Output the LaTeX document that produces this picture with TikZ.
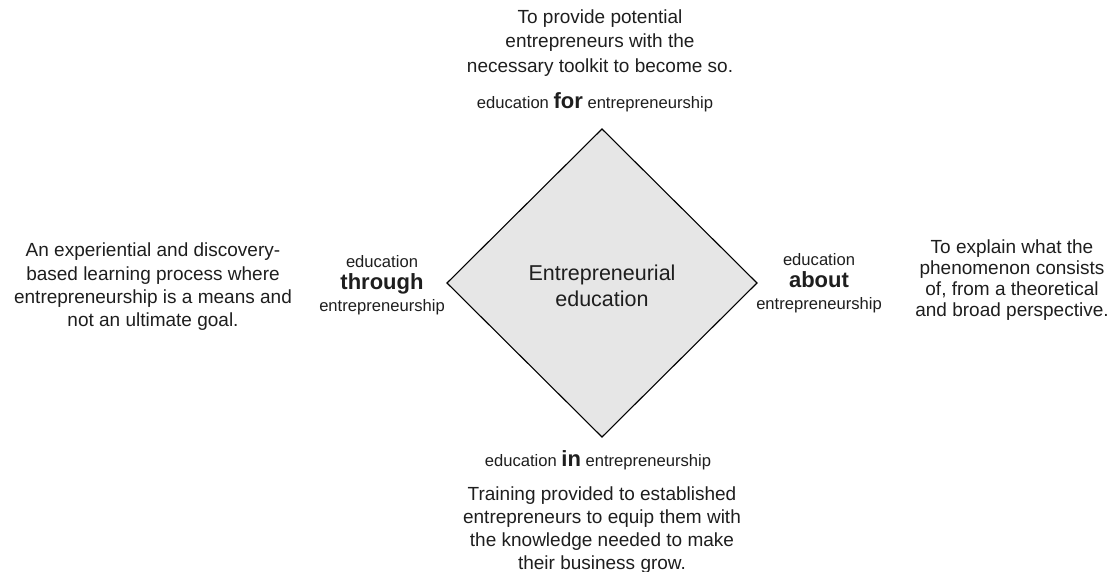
\documentclass[tikz,border=0pt]{standalone}
\usepackage{fontspec}
\setmainfont{Liberation Sans}
\definecolor{txt}{HTML}{1E1E1E}
\definecolor{dfill}{HTML}{E6E6E6}
\tikzset{
  para/.style={align=center, text=txt, inner sep=0pt},
  lab/.style={align=center, text=txt, inner sep=0pt, font=\fontsize{16.6}{22}\selectfont},
}
\newcommand{\kw}[1]{{\fontsize{22}{22}\selectfont\bfseries #1}}
\begin{document}
\begin{tikzpicture}[x=1pt,y=-1pt]
\useasboundingbox (0,0) rectangle (1110,572);
\coordinate (T) at (602,129);
\coordinate (R) at (757,283);
\coordinate (B) at (602,437);
\coordinate (L) at (447,283);
\draw[fill=dfill, draw=black, line width=1.1pt, line join=miter] (T) -- (R) -- (B) -- (L) -- cycle;
\node[para, font=\fontsize{21.5}{26.3}\selectfont] (center) at (602,286) {Entrepreneurial\\education};

\node[para, font=\fontsize{19}{24.2}\selectfont] (toptext) at (600,43) {To provide potential\\entrepreneurs with the\\necessary toolkit to become so.};
\node[lab] (toplab) at (595,102) {education \kw{for} entrepreneurship};

\node[lab] (botlab) at (598,460) {education \kw{in} entrepreneurship};
\node[para, font=\fontsize{19}{22.8}\selectfont] (bottext) at (602,530) {Training provided to established\\entrepreneurs to equip them with\\the knowledge needed to make\\their business grow.};

\node[lab] (leftlab) at (382,285) {education\\\kw{through}\\entrepreneurship};
\node[para, font=\fontsize{19}{23.3}\selectfont] (lefttext) at (153,287) {An experiential and discovery-\\based learning process where\\entrepreneurship is a means and\\not an ultimate goal.};

\node[lab] (rightlab) at (819,283) {education\\\kw{about}\\entrepreneurship};
\node[para, font=\fontsize{19}{21.1}\selectfont] (righttext) at (1012,280) {To explain what the\\phenomenon consists\\of, from a theoretical\\and broad perspective.};
\end{tikzpicture}
\end{document}
